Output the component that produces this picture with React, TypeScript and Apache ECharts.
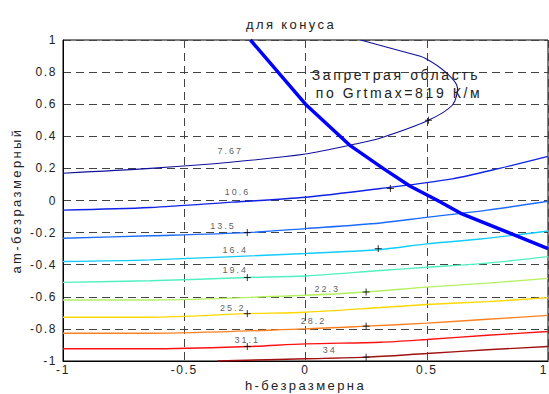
import React, { useEffect, useRef } from "react";
import * as echarts from "echarts";

// contour levels (labels as shown)
const levelLabels = ["7.67", "10.6", "13.5", "16.4", "19.4", "22.3", "25.2", "28.2", "31.1", "34"];

// contour lines: [h, am]
const c767 = [[-1, 0.17], [-0.64, 0.2], [-0.3, 0.24], [0, 0.29], [0.2, 0.35], [0.31, 0.39], [0.507, 0.5], [0.606, 0.595], [0.627, 0.7], [0.585, 0.79], [0.495, 0.885], [0.42, 0.92], [0.227, 1.0]];
const c106 = [[-1, -0.06], [-0.64, -0.044], [-0.3, -0.01], [0, 0.02], [0.31, 0.075], [0.605, 0.135], [0.8, 0.2], [1, 0.275]];
const c135 = [[-1, -0.235], [-0.64, -0.22], [-0.24, -0.2], [0, -0.175], [0.31, -0.14], [0.5, -0.105], [0.75, -0.06], [1, -0.005]];
const c164 = [[-1, -0.38], [-0.64, -0.37], [0, -0.33], [0.31, -0.305], [0.5, -0.27], [0.72, -0.24], [1, -0.19]];
const c194 = [[-1, -0.51], [-0.64, -0.5], [-0.24, -0.48], [0, -0.47], [0.31, -0.436], [0.5, -0.416], [0.75, -0.39], [1, -0.35]];
const c223 = [[-1, -0.62], [-0.64, -0.62], [0, -0.59], [0.25, -0.57], [0.5, -0.54], [0.75, -0.515], [1, -0.485]];
const c252 = [[-1, -0.727], [-0.64, -0.727], [-0.24, -0.705], [0, -0.696], [0.31, -0.667], [0.5, -0.648], [0.75, -0.63], [1, -0.605]];
const c282 = [[-1, -0.827], [-0.64, -0.827], [0, -0.8], [0.25, -0.783], [0.5, -0.764], [0.75, -0.74], [1, -0.716]];
const c311 = [[-1, -0.924], [-0.64, -0.924], [-0.24, -0.91], [0, -0.893], [0.31, -0.883], [0.5, -0.866], [0.75, -0.84], [1, -0.816]];
const c34 = [[-0.363, -1], [0, -0.986], [0.25, -0.976], [0.5, -0.953], [0.75, -0.93], [1, -0.91]];
const contours = [c767, c106, c135, c164, c194, c223, c252, c282, c311, c34];

// jet-like colours per level
const contourColors = ["#10109c", "#1022e6", "#1a6cff", "#10ccff", "#50f0c0", "#b4f060", "#ffd800", "#ff8020", "#ff1010", "#a01010"];

// label positions and "+" marks
const labelPos = [[-0.31, 0.31], [-0.28, 0.056], [-0.34, -0.16], [-0.29, -0.31], [-0.29, -0.436], [0.09, -0.55], [-0.3, -0.67], [0.033, -0.75], [-0.24, -0.87], [0.1, -0.93]];
const markerPos = [[0.507, 0.5], [0.35, 0.075], [-0.24, -0.2], [0.3, -0.3], [-0.24, -0.48], [0.25, -0.57], [-0.24, -0.705], [0.25, -0.783], [-0.24, -0.91], [0.25, -0.976]];

// forbidden-region boundary
const boundary = [[-0.227, 1], [0, 0.6], [0.186, 0.34], [0.32, 0.2], [0.43, 0.09], [0.545, 0], [0.64, -0.08], [0.845, -0.205], [1, -0.3]];

const FONT = "Liberation Sans, Arial, sans-serif";

export default function App() {
  const ref = useRef<HTMLDivElement>(null);
  useEffect(() => {
    if (!ref.current) return;
    const chart = echarts.init(ref.current, null, { renderer: "svg" });
    const series: any[] = contours.map((c, i) => ({
      type: "line",
      data: c,
      showSymbol: false,
      smooth: 0.3,
      lineStyle: { color: contourColors[i], width: i === 0 ? 1.1 : 1.4 },
      z: 3,
    }));
    series.push({
      type: "scatter",
      data: markerPos,
      symbol: "path://M0,5L10,5M5,0L5,10",
      symbolSize: 7,
      itemStyle: { color: "none", borderColor: "#000", borderWidth: 1 },
      z: 4,
    });
    series.push({
      type: "scatter",
      data: labelPos.map((p, i) => ({ value: p, name: levelLabels[i] })),
      symbolSize: 1,
      itemStyle: { color: "rgba(0,0,0,0)" },
      label: {
        show: true,
        position: "inside",
        formatter: (p: any) => p.name,
        fontSize: 9,
        color: "#333",
        fontFamily: FONT,
      },
      z: 5,
    });
    series.push({
      type: "line",
      data: boundary,
      showSymbol: false,
      lineStyle: { color: "#0000ff", width: 3.5 },
      z: 6,
    });

    chart.setOption({
      animation: false,
      backgroundColor: "#fff",
      textStyle: { fontFamily: FONT },
      grid: {
        left: 63, right: 1, top: 40, bottom: 33,
        outerBoundsMode: "none", containLabel: false,
        show: true, borderColor: "#000", borderWidth: 1,
      },
      xAxis: {
        type: "value",
        min: -1,
        max: 1,
        interval: 0.5,
        name: "h-безразмерна",
        nameLocation: "middle",
        nameGap: 18,
        nameMoveOverlap: false,
        nameTextStyle: { fontSize: 13, color: "#222", fontFamily: FONT, verticalAlign: "top" },
        axisLine: { onZero: false, lineStyle: { color: "#000" } },
        axisTick: { show: false },
        axisLabel: { fontSize: 12, color: "#222", margin: 3, fontFamily: FONT, alignMaxLabel: "right" },
        splitLine: { show: true, lineStyle: { color: "#444", type: [8, 5], width: 1 } },
      },
      yAxis: {
        type: "value",
        min: -1,
        max: 1,
        interval: 0.2,
        name: "am-безразмерный",
        nameLocation: "middle",
        nameGap: 40,
        nameMoveOverlap: false,
        nameTextStyle: { fontSize: 13, color: "#222", fontFamily: FONT },
        axisLine: { onZero: false, lineStyle: { color: "#000" } },
        axisTick: { show: false },
        axisLabel: { fontSize: 12, color: "#222", margin: 6, fontFamily: FONT },
        splitLine: { show: true, lineStyle: { color: "#444", type: [8, 5], width: 1 } },
      },
      graphic: [
        {
          type: "text",
          x: 291,
          y: 24,
          style: { text: "для конуса", fontSize: 13, fill: "#222", align: "center", verticalAlign: "middle", fontFamily: FONT },
        },
        {
          type: "text",
          x: 396,
          y: 75,
          z: 10,
          style: { text: "Запретрая область", fontSize: 14, fill: "#222", align: "center", verticalAlign: "middle", fontFamily: FONT },
        },
        {
          type: "text",
          x: 399,
          y: 93,
          z: 10,
          style: { text: "по Grtmax=819 К/м", fontSize: 14, fill: "#222", align: "center", verticalAlign: "middle", fontFamily: FONT },
        },
      ],
      series,
    });
    return () => chart.dispose();
  }, []);
  return (
    <>
      <style>{`
        .mchart text { letter-spacing: 2px; }
        .mchart text[style*="12px"] { letter-spacing: 1.6px; }
        .mchart text[style*="14px"] { letter-spacing: 2.6px; }
        .mchart text[style*="13px"] { letter-spacing: 2.4px; }
        .mchart text[style*="9px"] { letter-spacing: 2px; }
      `}</style>
      <div
        ref={ref}
        className="mchart"
        style={{ position: "absolute", left: 0, top: 0, width: 549, height: 394 }}
      />
    </>
  );
}
